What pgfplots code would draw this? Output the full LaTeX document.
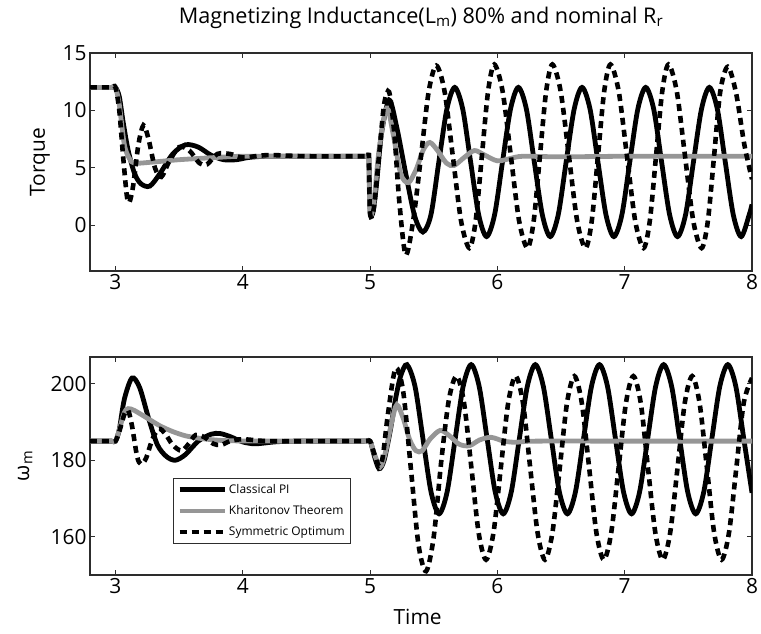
\documentclass[border=0pt]{standalone}
\usepackage{pgfplots}
\pgfplotsset{compat=1.18}
\usepackage{fontspec}
\setmainfont{Open Sans}
\definecolor{khgray}{RGB}{150,150,150}
\definecolor{axgray}{RGB}{45,45,45}
\pgfplotsset{myax/.style={
  scale only axis, width=662bp, height=218bp,
  xmin=2.8, xmax=8, xtick={3,4,5,6,7,8},
  axis line style={draw=axgray, line width=1.1bp},
  tick style={draw=axgray, line width=0.8bp},
  major tick length=5bp, tick align=inside,
  ticklabel style={font=\fontsize{21}{25}\selectfont},
  label style={font=\fontsize{21}{25}\selectfont},
  /pgf/number format/assume math mode=true,
  clip=true,
},
pi/.style={black, line width=4.8bp, smooth, tension=0.5},
kh/.style={khgray, line width=4.8bp, smooth, tension=0.5},
so/.style={black, line width=4.6bp, dash pattern=on 7bp off 5bp, smooth, tension=0.5},
}
\begin{document}
\begin{tikzpicture}
\useasboundingbox (-90bp,-59bp) rectangle (671bp,575bp);
% ---------------- Top axis: Torque
\begin{axis}[myax, at={(0,304bp)}, anchor=south west,
  ymin=-4, ymax=15, ytick={0,5,10,15},
  ylabel={Torque},
  ylabel style={at={(axis description cs:-0.0755,0.5)}, anchor=center},
  title={Magnetizing Inductance(L\textsubscript{m}) 80\% and nominal R\textsubscript{r}},
  title style={at={(axis description cs:0.5,1)}, anchor=base, yshift=24bp, font=\fontsize{21.7}{26}\selectfont},
]
\addplot[pi] coordinates {
(2.8,12) (2.9,12) (2.97,12) (3.0,12) (3.03,11.2) (3.06,9) (3.1,6.5) (3.15,4.5) (3.2,3.6) (3.27,3.4) (3.35,4.5) (3.45,6.2) (3.55,7.0) (3.65,6.8) (3.75,6.1) (3.85,5.7) (3.95,5.7) (4.05,5.9) (4.2,6.0) (4.6,6) (4.9,6) (4.98,6) (4.99,6)
(5.0,1.5) (5.02,1.0) (5.05,3.5) (5.09,8) (5.15,10.9) (5.21,8.5) (5.28,4.5) (5.35,0.8) (5.415,-0.6) (5.478,0.9) (5.54,5.5) (5.603,10.1) (5.665,12)
(5.728,10.1) (5.79,5.5) (5.853,0.9) (5.915,-1) (5.978,0.9) (6.04,5.5) (6.103,10.1) (6.165,12)
(6.228,10.1) (6.29,5.5) (6.353,0.9) (6.415,-1) (6.478,0.9) (6.54,5.5) (6.603,10.1) (6.665,12)
(6.728,10.1) (6.79,5.5) (6.853,0.9) (6.915,-1) (6.978,0.9) (7.04,5.5) (7.103,10.1) (7.165,12)
(7.228,10.1) (7.29,5.5) (7.353,0.9) (7.415,-1) (7.478,0.9) (7.54,5.5) (7.603,10.1) (7.665,12)
(7.728,10.1) (7.79,5.5) (7.853,0.9) (7.915,-1) (7.978,0.9) (8.0,1.8)
};
\addplot[kh] coordinates {
(2.8,12) (2.9,12) (2.97,12) (3.0,12) (3.03,10.5) (3.07,7) (3.11,5.8) (3.15,5.4) (3.3,5.5) (3.5,5.7) (3.8,5.9) (4.0,6) (4.5,6) (4.9,6) (4.98,6) (4.99,6)
(5.0,1.0) (5.03,2) (5.07,6.5) (5.13,10.2) (5.18,8) (5.24,4.5) (5.3,3.7) (5.36,4.8) (5.42,6.6) (5.47,7.2) (5.53,6.5) (5.6,5.4) (5.66,5.2) (5.74,5.9) (5.82,6.5) (5.9,6.1) (6.0,5.6) (6.1,5.8) (6.2,6.0) (6.5,5.95) (7.0,6) (7.5,6) (8.0,6.0)
};
\addplot[so] coordinates {
(2.8,12) (2.9,12) (2.97,12) (3.0,12) (3.03,10) (3.06,6) (3.09,2.5) (3.11,2.0) (3.14,3.5) (3.18,7) (3.22,8.7) (3.26,7.5) (3.31,5) (3.36,4.2) (3.42,5.5) (3.5,6.8) (3.58,6.5) (3.66,5.4) (3.72,5.3) (3.8,6.2) (3.9,6.2) (4.0,5.9) (4.2,6.1) (4.5,6) (4.9,6) (4.98,6) (4.99,6)
(5.0,1) (5.03,1.5) (5.07,6) (5.11,10.5) (5.15,11.6) (5.19,8) (5.23,2) (5.28,-2.6) (5.34,0.5) (5.40,6) (5.46,11.6) (5.52,13.9)
(5.585,11.66) (5.65,6) (5.715,0.34) (5.78,-2) (5.829,0.34) (5.878,6) (5.927,11.66) (5.976,14)
(6.041,11.66) (6.106,6) (6.171,0.34) (6.236,-2) (6.285,0.34) (6.334,6) (6.383,11.66) (6.432,14)
(6.497,11.66) (6.562,6) (6.627,0.34) (6.692,-2) (6.741,0.34) (6.79,6) (6.839,11.66) (6.888,14)
(6.953,11.66) (7.018,6) (7.083,0.34) (7.148,-2) (7.197,0.34) (7.246,6) (7.295,11.66) (7.344,14)
(7.409,11.66) (7.474,6) (7.539,0.34) (7.604,-2) (7.653,0.34) (7.702,6) (7.751,11.66) (7.81,13.8)
(7.875,11.5) (7.94,7) (8.0,4)
};
\end{axis}
% ---------------- Bottom axis: speed
\begin{axis}[myax, at={(0,0)}, anchor=south west,
  ymin=150, ymax=207, ytick={160,180,200},
  ylabel={ω\textsubscript{m}},
  ylabel style={at={(axis description cs:-0.098,0.5)}, anchor=center},
  xlabel={Time},
  xlabel style={at={(axis description cs:0.495,-0.193)}, anchor=center},
  legend style={at={(axis description cs:0.125,0.444)}, anchor=north west,
    font=\fontsize{12}{14}\selectfont, draw=axgray, line width=0.8bp,
    row sep=6.5bp, inner xsep=4bp, inner ysep=4bp, cells={anchor=west}},
  legend image code/.code={\draw[#1, smooth=false] (0bp,0bp) -- (45bp,0bp);},
]
\addplot[pi] coordinates {
(2.8,185) (2.9,185) (2.97,185) (3.0,185) (3.03,188) (3.07,196) (3.13,201.5) (3.19,199) (3.26,191) (3.33,184) (3.4,181) (3.47,180) (3.55,181.5) (3.65,185) (3.75,186.8) (3.82,187) (3.9,186.2) (4.0,184.8) (4.1,184.3) (4.25,184.8) (4.4,185) (4.7,185) (4.95,185)
(5.0,185) (5.03,181.5) (5.07,177.8) (5.11,180) (5.16,188) (5.2,196) (5.24,202) (5.29,205)
(5.353,199.3) (5.416,185.5) (5.479,171.7) (5.542,166) (5.605,171.7) (5.668,185.5) (5.731,199.3) (5.794,205)
(5.857,199.3) (5.92,185.5) (5.983,171.7) (6.046,166) (6.109,171.7) (6.172,185.5) (6.235,199.3) (6.298,205)
(6.361,199.3) (6.424,185.5) (6.487,171.7) (6.55,166) (6.613,171.7) (6.676,185.5) (6.739,199.3) (6.802,205)
(6.865,199.3) (6.928,185.5) (6.991,171.7) (7.054,166) (7.117,171.7) (7.18,185.5) (7.243,199.3) (7.306,205)
(7.369,199.3) (7.432,185.5) (7.495,171.7) (7.558,166) (7.621,171.7) (7.684,185.5) (7.747,199.3) (7.81,205)
(7.873,199.3) (7.936,185.5) (8.0,171.5)
};
\addlegendentry{Classical PI}
\addplot[kh] coordinates {
(2.8,185) (2.9,185) (2.97,185) (3.0,185) (3.03,188) (3.07,192.5) (3.1,193.5) (3.15,193) (3.25,191) (3.35,189) (3.45,187.5) (3.55,186.4) (3.65,185.8) (3.75,185.4) (3.9,185.1) (4.3,185) (4.7,185) (4.95,185)
(5.0,185) (5.03,182) (5.08,178.3) (5.12,182) (5.17,190) (5.21,194.5) (5.26,191) (5.31,185.5) (5.36,182.5) (5.41,182.5) (5.47,185.5) (5.55,187.8) (5.62,186.5) (5.7,184.2) (5.78,183.8) (5.86,185.3) (5.95,186) (6.05,185) (6.15,184.7) (6.3,185) (7.0,185) (7.5,185) (8.0,185)
};
\addlegendentry{Kharitonov Theorem}
\addplot[so] coordinates {
(2.8,185) (2.9,185) (2.97,185) (3.0,185) (3.03,187.5) (3.07,192) (3.1,193) (3.13,189) (3.17,181) (3.2,179) (3.24,180.5) (3.29,185.5) (3.34,188.2) (3.39,187) (3.45,184) (3.52,182.5) (3.58,184.5) (3.63,186.6) (3.7,186) (3.77,184.3) (3.83,184) (3.9,185) (4.0,185.5) (4.2,185) (4.6,185) (4.95,185)
(5.0,185) (5.03,182) (5.07,178.5) (5.1,181) (5.14,192) (5.2,204) (5.26,198) (5.32,178) (5.38,158) (5.44,151) (5.5,160) (5.56,180) (5.62,196) (5.68,202)
(5.738,195) (5.796,178) (5.853,161) (5.911,154) (5.969,161) (6.027,178) (6.085,195) (6.143,202)
(6.201,195) (6.258,178) (6.316,161) (6.374,154) (6.432,161) (6.49,178) (6.547,195) (6.605,202)
(6.663,195) (6.721,178) (6.778,161) (6.836,154) (6.894,161) (6.952,178) (7.01,195) (7.068,202)
(7.126,195) (7.183,178) (7.241,161) (7.299,154) (7.357,161) (7.415,178) (7.472,195) (7.53,202)
(7.588,195) (7.646,178) (7.703,161) (7.761,154) (7.819,161) (7.877,178) (7.935,195) (8.0,201.5)
};
\addlegendentry{Symmetric Optimum}
\end{axis}
\end{tikzpicture}
\end{document}
